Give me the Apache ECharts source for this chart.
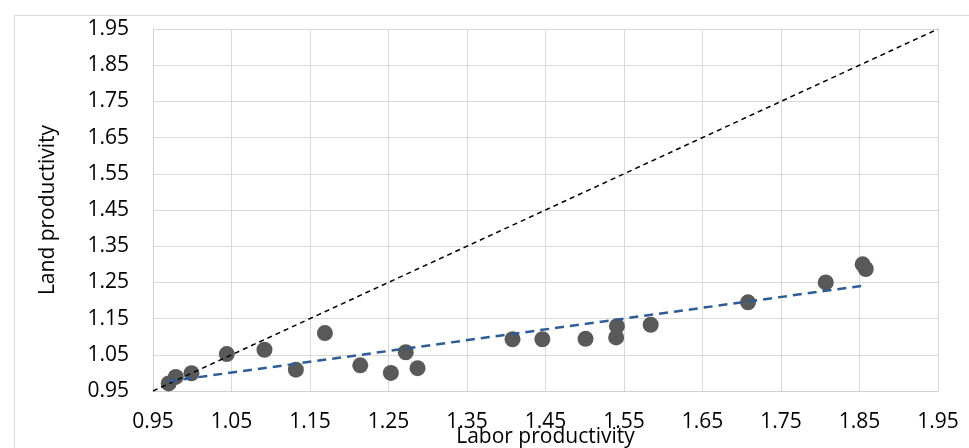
<!DOCTYPE html>
<html>
<head>
<meta charset="utf-8">
<script src="https://cdn.jsdelivr.net/npm/echarts@6/dist/echarts.min.js"></script>
<style>html,body{margin:0;padding:0;background:#fff;}#c{width:969px;height:448px;}</style>
</head>
<body>
<div id="c"></div>
<script>
var labor = [0.970, 0.979, 0.999, 1.044, 1.092, 1.132, 1.169, 1.214, 1.253, 1.272, 1.287, 1.408, 1.446, 1.501, 1.541, 1.540, 1.584, 1.708, 1.807, 1.854, 1.858];
var land  = [0.971, 0.989, 0.999, 1.052, 1.064, 1.009, 1.110, 1.021, 1.000, 1.057, 1.013, 1.093, 1.093, 1.094, 1.129, 1.098, 1.133, 1.195, 1.250, 1.300, 1.287];
var trendX = [0.970, 1.858];
var trendY = [0.977, 1.242];
var diagX = [0.95, 1.95];
var diagY = [0.95, 1.95];
var axisMin = 0.95, axisMax = 1.95, axisStep = 0.1;

function pairs(a, b) { return a.map(function (v, i) { return [v, b[i]]; }); }

var chart = echarts.init(document.getElementById('c'));
var font = 'Open Sans';
chart.setOption({
  animation: false,
  backgroundColor: '#fff',
  graphic: [{
    type: 'rect', left: 12, top: 13,
    shape: { width: 970, height: 450 },
    style: { fill: 'none', stroke: '#d9d9d9', lineWidth: 1 },
    silent: true
  }],
  grid: { left: 153, right: 31, top: 29, bottom: 57, containLabel: false, outerBoundsMode: 'none' },
  xAxis: {
    type: 'value', min: axisMin, max: axisMax, interval: axisStep,
    name: 'Labor productivity', nameLocation: 'middle', nameGap: 36, nameMoveOverlap: false,
    nameTextStyle: { fontFamily: font, fontSize: 21, color: '#000' },
    axisLine: { show: true, lineStyle: { color: '#d0d0d0', width: 1 } },
    axisTick: { show: false },
    splitLine: { show: true, lineStyle: { color: '#d9d9d9', width: 1 } },
    axisLabel: { fontFamily: font, fontSize: 21, color: '#000', margin: 21,
      formatter: function (v) { return v.toFixed(2); } }
  },
  yAxis: {
    type: 'value', min: axisMin, max: axisMax, interval: axisStep,
    name: 'Land productivity', nameLocation: 'middle', nameGap: 94, nameRotate: 90, nameMoveOverlap: false,
    nameTextStyle: { fontFamily: font, fontSize: 21, color: '#000' },
    axisLine: { show: true, lineStyle: { color: '#d0d0d0', width: 1 } },
    axisTick: { show: false },
    splitLine: { show: true, lineStyle: { color: '#d9d9d9', width: 1 } },
    axisLabel: { fontFamily: font, fontSize: 21, color: '#000', margin: 24,
      formatter: function (v) { return v.toFixed(2); } }
  },
  series: [
    {
      type: 'scatter', data: pairs(labor, land), symbolSize: 16,
      itemStyle: { color: '#595959', opacity: 1 }, z: 2
    },
    {
      type: 'line', data: pairs(diagX, diagY), symbol: 'none',
      lineStyle: { color: '#000', width: 1.5, type: [5, 4] }, z: 3
    },
    {
      type: 'line', data: pairs(trendX, trendY), symbol: 'none',
      lineStyle: { color: '#2f5c94', width: 2.5, type: [9, 6] }, z: 4
    }
  ]
});
</script>
</body>
</html>
